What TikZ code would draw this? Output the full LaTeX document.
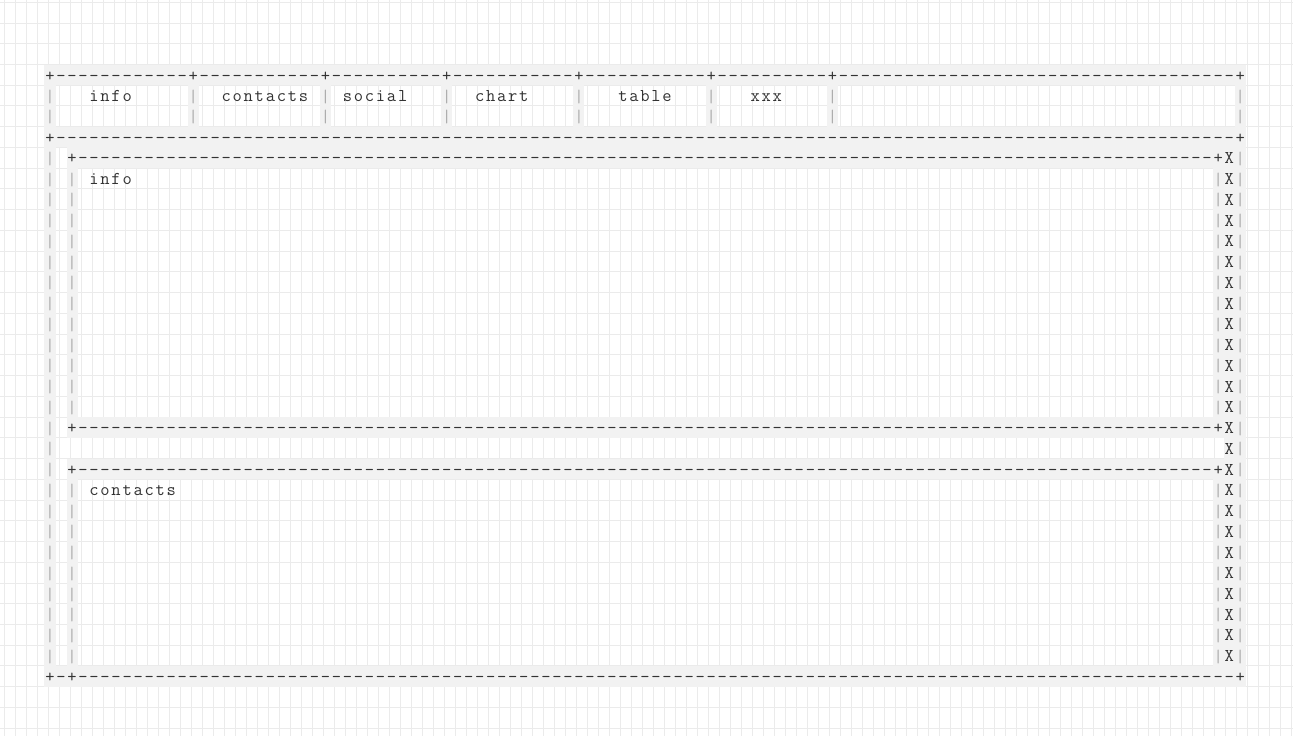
\documentclass[tikz,border=0pt]{standalone}
\definecolor{gridc}{HTML}{EBEBEB}
\definecolor{cellbg}{HTML}{F2F2F2}
\definecolor{txtc}{HTML}{333333}
\definecolor{pipec}{HTML}{ABABAB}
\newcommand\mycx{50}
\newcommand\mycw{11.02}
\newcommand\myry{81}
\newcommand\myrh{20.74}
\tikzset{
  chs/.style={anchor=base, inner sep=0pt, outer sep=0pt, text=txtc, font=\ttfamily\fontsize{18}{18}\selectfont},
  pipes/.style={anchor=base, inner sep=0pt, outer sep=0pt, text=pipec, font=\ttfamily\fontsize{18}{18}\selectfont},
  gridline/.style={draw=gridc, line width=1pt},
  cellfill/.style={fill=cellbg}
}
\newcommand\mychr[3]{\node[chs] (c-#1-#2) at ({\mycx+#1*\mycw},{\myry+#2*\myrh}) {#3};}
\newcommand\mypipe[2]{\node[pipes] (p-#1-#2) at ({\mycx+#1*\mycw},{\myry+0.5+#2*\myrh}) {|};}
\newcommand\mydash[3]{\foreach \k in {#1,...,#2}{\mychr{\k}{#3}{-}}}
\newcommand\myword[3]{\foreach \ltr [count=\k from #1] in {#3}{\mychr{\k}{#2}{\ltr}}}
\newcommand\mygf[4]{\fill[cellfill] ({\mycx-\mycw/2+#1*\mycw},{\myry-16.5+#3*\myrh}) rectangle ({\mycx+\mycw/2+#2*\mycw},{\myry-16.5+(#4+1)*\myrh});}
\begin{document}
\begin{tikzpicture}[x=1pt,y=-1pt]
\useasboundingbox (0,0) rectangle (1293,736);
\fill[white] (0,0) rectangle (1293,736);
% background grid
\foreach \i in {0,...,117}{\draw[gridline] ({4.3+11*\i},0) -- ({4.3+11*\i},736);}
\foreach \j in {-3,...,32}{\draw[gridline] (0,{64.5+\myrh*\j}) -- (1293,{64.5+\myrh*\j});}
% grey character cells
\mygf{0}{108}{0}{0}
\mygf{0}{0}{0}{29}
\mygf{108}{108}{0}{29}
\foreach \c in {13,25,36,48,60,71}{\mygf{\c}{\c}{1}{2}}
\mygf{0}{108}{3}{3}
\mygf{2}{108}{4}{4}
\mygf{2}{2}{4}{17}
\mygf{106}{108}{4}{17}
\mygf{2}{108}{17}{17}
\mygf{107}{108}{18}{18}
\mygf{2}{108}{19}{19}
\mygf{2}{2}{19}{28}
\mygf{106}{108}{19}{28}
\mygf{0}{108}{29}{29}
% row 0 : tab bar top
\foreach \c in {0,13,25,36,48,60,71,108}{\mychr{\c}{0}{+}}
\mydash{1}{12}{0}\mydash{14}{24}{0}\mydash{26}{35}{0}\mydash{37}{47}{0}
\mydash{49}{59}{0}\mydash{61}{70}{0}\mydash{72}{107}{0}
% rows 1-2 : tabs
\foreach \c in {0,13,25,36,48,60,71,108}{\mypipe{\c}{1}\mypipe{\c}{2}}
\myword{4}{1}{i,n,f,o}
\myword{16}{1}{c,o,n,t,a,c,t,s}
\myword{27}{1}{s,o,c,i,a,l}
\myword{39}{1}{c,h,a,r,t}
\myword{52}{1}{t,a,b,l,e}
\myword{64}{1}{x,x,x}
% row 3
\mychr{0}{3}{+}\mydash{1}{107}{3}\mychr{108}{3}{+}
% inner box borders
\foreach \r in {4,17,19}{\mypipe{0}{\r}\mychr{2}{\r}{+}\mydash{3}{105}{\r}\mychr{106}{\r}{+}\mychr{107}{\r}{X}\mypipe{108}{\r}}
% inner box rows
\foreach \r in {5,...,16}{\mypipe{0}{\r}\mypipe{2}{\r}\mypipe{106}{\r}\mychr{107}{\r}{X}\mypipe{108}{\r}}
\foreach \r in {20,...,28}{\mypipe{0}{\r}\mypipe{2}{\r}\mypipe{106}{\r}\mychr{107}{\r}{X}\mypipe{108}{\r}}
\myword{4}{5}{i,n,f,o}
\myword{4}{20}{c,o,n,t,a,c,t,s}
% spacer row
\mypipe{0}{18}\mychr{107}{18}{X}\mypipe{108}{18}
% bottom row
\mychr{0}{29}{+}\mychr{1}{29}{-}\mychr{2}{29}{+}\mydash{3}{107}{29}\mychr{108}{29}{+}
\end{tikzpicture}
\end{document}
